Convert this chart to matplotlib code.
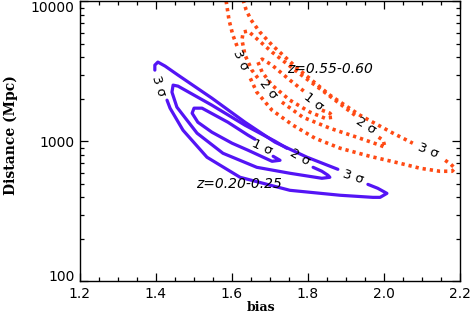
import matplotlib
matplotlib.use("Agg")
import matplotlib.pyplot as plt
from matplotlib.ticker import MultipleLocator, LogLocator, FixedLocator, NullFormatter

# ---------------- data (bias, distance [Mpc]) ----------------
# z = 0.20-0.25 (blue, solid)
b3_seg1_bias = [1.398, 1.398, 1.406, 1.425, 1.459, 1.548, 1.635, 1.714, 1.798, 1.879]
b3_seg1_dist = [3234, 3512, 3691, 3455, 2979, 2039, 1373, 988, 772, 633]
b3_seg2_bias = [1.958, 1.984, 2.008, 1.990, 1.971, 1.885, 1.753, 1.622, 1.535, 1.472, 1.438, 1.430]
b3_seg2_dist = [494, 463, 426, 399, 399, 413, 448, 555, 772, 1204, 1730, 1973]

b2_bias = [1.814, 1.837, 1.853, 1.858, 1.837, 1.753, 1.666, 1.577, 1.509, 1.456, 1.443, 1.446,
           1.459, 1.548, 1.635, 1.714, 1.745]
b2_dist = [654, 613, 574, 555, 546, 593, 654, 824, 1146, 1759, 2251, 2527,
           2485, 1817, 1307, 1004, 895]

b1_bias = [1.709, 1.727, 1.706, 1.643, 1.601, 1.548, 1.511, 1.496, 1.501, 1.522, 1.590, 1.643, 1.661]
b1_dist = [784, 734, 722, 866, 972, 1165, 1373, 1593, 1730, 1730, 1373, 1109, 1038]

# z = 0.55-0.60 (red, dotted)
r3_seg1_bias = [1.630, 1.638, 1.651, 1.674, 1.706, 1.772, 1.858, 1.937, 2.024, 2.076]
r3_seg1_dist = [10250, 8696, 7373, 6050, 4884, 3343, 2143, 1541, 1146, 972]
r3_seg2_bias = [2.161, 2.176, 2.187, 2.179, 2.147, 2.095, 2.042, 1.963, 1.885, 1.819, 1.761, 1.706, 1.666, 1.645]
r3_seg2_dist = [734, 687, 644, 613, 613, 644, 699, 784, 895, 1055, 1307, 1673, 2251, 2979]
r3_seg3_bias = [1.614, 1.603, 1.593, 1.585]
r3_seg3_dist = [4804, 5757, 7373, 10250]

r2_seg1_bias = [1.732, 1.787, 1.858, 1.937, 1.990, 2.003, 1.998, 1.982]
r2_seg1_dist = [1910, 1491, 1244, 1055, 940, 910, 1021, 1091]
r2_seg2_bias = [1.924, 1.858, 1.780, 1.706, 1.661, 1.643, 1.630, 1.627, 1.635, 1.653, 1.669]
r2_seg2_dist = [1541, 2108, 3029, 4351, 5572, 6151, 6050, 5304, 4142, 3234, 2835]

r1_bias = [1.837, 1.858, 1.866, 1.845, 1.806, 1.753, 1.706, 1.680, 1.669, 1.680, 1.706, 1.753, 1.793]
r1_dist = [1673, 1593, 1491, 1467, 1619, 1973, 2527, 3130, 3691, 3877, 3512, 2744, 2251]

x_ticks = [1.2, 1.4, 1.6, 1.8, 2.0, 2.2]
x_ticklabels = ["1.2", "1.4", "1.6", "1.8", "2.0", "2.2"]
y_ticks = [100, 1000, 10000]
y_ticklabels = ["100", "1000", "10000"]

# ---------------- figure ----------------
fig = plt.figure(figsize=(4.71, 3.23), dpi=100)
ax = fig.add_axes([0.1688, 0.1285, 0.9766 - 0.1688, 0.9954 - 0.1285])

blue = "#5414F5"
red = "#FF4A14"
blw = 2.3
rlw = 2.6

for bx, by in [(b3_seg1_bias, b3_seg1_dist), (b3_seg2_bias, b3_seg2_dist),
               (b2_bias, b2_dist), (b1_bias, b1_dist)]:
    ax.plot(bx, by, color=blue, lw=blw, solid_joinstyle="round", solid_capstyle="round")

for rx, ry in [(r3_seg1_bias, r3_seg1_dist), (r3_seg2_bias, r3_seg2_dist),
               (r3_seg3_bias, r3_seg3_dist), (r2_seg1_bias, r2_seg1_dist),
               (r2_seg2_bias, r2_seg2_dist), (r1_bias, r1_dist)]:
    ax.plot(rx, ry, color=red, lw=rlw, linestyle=(0, (0.9, 1.1)), dash_capstyle="butt")

lab_kw = dict(fontsize=9.5, ha="center", va="center", rotation_mode="anchor",
              family="DejaVu Sans")
# blue sigma labels
ax.text(1.409, 2485, "3 σ", rotation=-72, **lab_kw)
ax.text(1.680, 910, "1 σ", rotation=-25, **lab_kw)
ax.text(1.780, 772, "2 σ", rotation=-30, **lab_kw)
ax.text(1.919, 555, "3 σ", rotation=-18, **lab_kw)
# red sigma labels
ax.text(1.624, 3814, "3 σ", rotation=-65, **lab_kw)
ax.text(1.695, 2365, "2 σ", rotation=-52, **lab_kw)
ax.text(1.816, 1910, "1 σ", rotation=-38, **lab_kw)
ax.text(1.953, 1307, "2 σ", rotation=-32, **lab_kw)
ax.text(2.116, 866, "3 σ", rotation=-22, **lab_kw)

ax.text(1.858, 3289, "z=0.55-0.60", fontsize=10, style="italic", ha="center", va="center")
ax.text(1.62, 494, "z=0.20-0.25", fontsize=10, style="italic", ha="center", va="center")

ax.set_xlim(1.2, 2.2)
ax.set_yscale("log")
ax.set_ylim(100, 10000)

ax.xaxis.set_major_locator(FixedLocator(x_ticks))
ax.set_xticklabels(x_ticklabels)
ax.xaxis.set_minor_locator(MultipleLocator(0.05))
ax.yaxis.set_major_locator(FixedLocator(y_ticks))
ax.set_yticklabels(y_ticklabels)
ax.yaxis.set_minor_locator(LogLocator(base=10, subs=range(2, 10)))
ax.yaxis.set_minor_formatter(NullFormatter())

ax.tick_params(which="both", direction="in", top=True, right=True, labelsize=10, width=0.9)
ax.tick_params(which="major", length=6)
ax.tick_params(which="minor", length=3)
ax.tick_params(axis="x", which="major", pad=4)
for s in ax.spines.values():
    s.set_linewidth(1.0)
# keep the end labels inside the frame height, as in the reference
ylabs = ax.get_yticklabels()
ylabs[-1].set_va("top")
ylabs[0].set_va("baseline")

ax.set_xlabel("bias", family="DejaVu Serif", fontsize=9, fontweight="bold")
ax.xaxis.set_label_coords(0.478, -0.068)
ax.set_ylabel("Distance (Mpc)", family="DejaVu Serif", fontsize=10, fontweight="bold")
ax.yaxis.set_label_coords(-0.162, 0.523)

fig.savefig("out.png", dpi=100)
